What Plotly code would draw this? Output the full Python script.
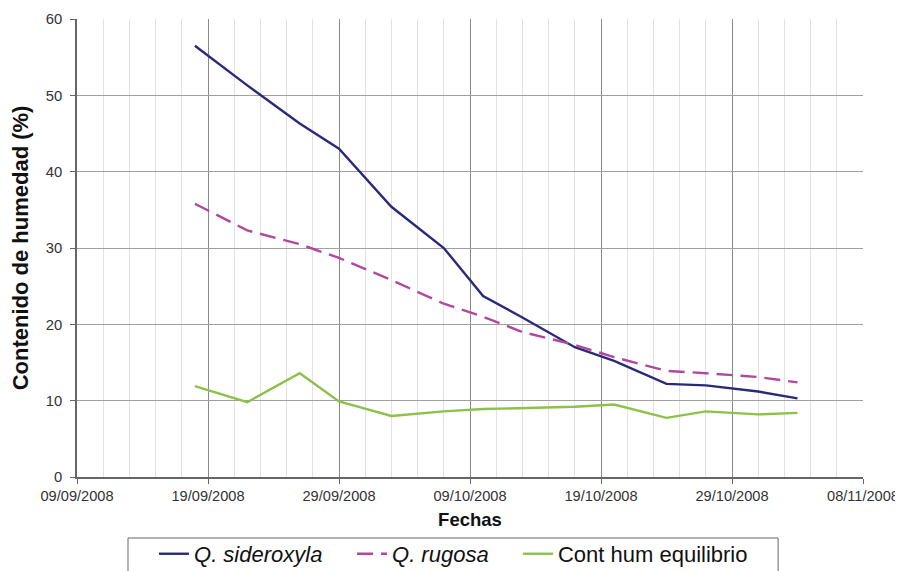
import plotly.graph_objects as go

dates = ["2008-09-18", "2008-09-22", "2008-09-26", "2008-09-29", "2008-10-03",
         "2008-10-07", "2008-10-10", "2008-10-13", "2008-10-17", "2008-10-20",
         "2008-10-24", "2008-10-27", "2008-10-31", "2008-11-03"]
sideroxyla = [56.5, 51.3, 46.3, 43.0, 35.4, 30.0, 23.7, 20.9, 17.0, 15.2,
              12.2, 12.0, 11.2, 10.3]
rugosa = [35.8, 32.3, 30.5, 28.7, 25.8, 22.7, 21.0, 19.0, 17.3, 15.7,
          13.9, 13.6, 13.1, 12.4]
equilibrio = [11.9, 9.8, 13.6, 9.9, 8.0, 8.6, 8.9, 9.0, 9.2, 9.5,
              7.75, 8.6, 8.2, 8.4]

names = ["<i>Q. sideroxyla</i>", "<i>Q. rugosa</i>", "Cont hum equilibrio"]
colors = ["#2B2A78", "#B2479E", "#8DC04C"]
dashes = ["solid", "16px,8px", "solid"]
series = [sideroxyla, rugosa, equilibrio]
legend_ids = ["legend", "legend2", "legend3"]
legend_x = [0.098, 0.3499, 0.561]

fig = go.Figure()
for n, c, d, s, lg in zip(names, colors, dashes, series, legend_ids):
    fig.add_trace(go.Scatter(x=dates, y=s, mode="lines", name=n, legend=lg,
                             line=dict(color=c, width=2.4, dash=d)))

legend_common = dict(orientation="h", xanchor="left", y=-0.168, yanchor="middle",
                     borderwidth=0, bgcolor="rgba(0,0,0,0)",
                     font=dict(size=22, color="#111111"), itemwidth=30)

DAY = 86400000
fig.update_layout(
    width=895, height=563,
    margin=dict(l=69, r=40, t=11, b=94, autoexpand=False),
    paper_bgcolor="white", plot_bgcolor="white",
    font=dict(family="Liberation Sans, Arial, sans-serif", color="#333333"),
    showlegend=True,
    legend=dict(x=legend_x[0], **legend_common),
    legend2=dict(x=legend_x[1], **legend_common),
    legend3=dict(x=legend_x[2], **legend_common),
    shapes=[dict(type="rect", xref="paper", yref="paper",
                 x0=0.0649, x1=0.892, y0=-0.1332, y1=-0.26,
                 line=dict(color="#666666", width=1), fillcolor="rgba(0,0,0,0)",
                 layer="below")],
    xaxis=dict(
        type="date", range=["2008-09-09", "2008-11-08"],
        tick0="2008-09-09", dtick=10 * DAY, tickformat="%d/%m/%Y",
        tickfont=dict(size=14.6, color="#333333"),
        showgrid=True, gridcolor="#8a8a8a", gridwidth=1,
        minor=dict(dtick=2 * DAY, tick0="2008-09-09", showgrid=True,
                   gridcolor="#e2e2e2", gridwidth=1),
        showline=True, linecolor="#666666", linewidth=1.5,
        ticks="outside", ticklen=5, tickcolor="#666666",
        zeroline=False, automargin=False,
        title=dict(text="<b>Fechas</b>", font=dict(size=18.5, color="#111111"), standoff=10),
    ),
    yaxis=dict(
        range=[0, 60], tick0=0, dtick=10,
        tickfont=dict(size=14.8, color="#333333"), ticklabelstandoff=5,
        showgrid=True, gridcolor="#a0a0a0", gridwidth=1,
        showline=True, linecolor="#666666", linewidth=1.5,
        ticks="outside", ticklen=5, tickcolor="#666666",
        zeroline=False, automargin=False,
        title=dict(text="<b>Contenido de humedad (%)</b>", font=dict(size=22, color="#111111"),
                   standoff=12),
    ),
)

fig.write_html("out.html")
